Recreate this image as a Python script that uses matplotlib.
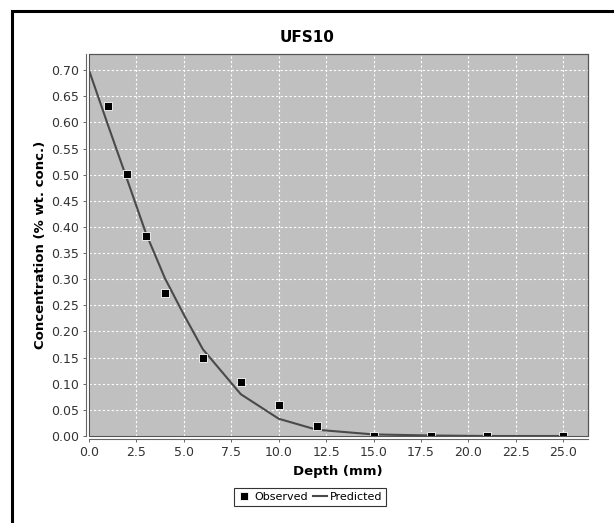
import matplotlib
matplotlib.use("Agg")
import matplotlib.pyplot as plt
from matplotlib.patches import Rectangle
import numpy as np

title = "UFS10"
obs_depth = [1, 2, 3, 4, 6, 8, 10, 12, 15, 18, 21, 25]
obs_conc = [0.632, 0.502, 0.383, 0.273, 0.150, 0.104, 0.060, 0.020, 0.0, 0.0, 0.0, 0.0]
pred_depth = [0, 1, 2, 3, 4, 5, 6, 8, 10, 12, 15, 18, 21, 25]
pred_conc = [0.700, 0.595, 0.492, 0.388, 0.302, 0.232, 0.166, 0.080, 0.033, 0.012, 0.003, 0.001, 0.0, 0.0]
xticks = [0.0, 2.5, 5.0, 7.5, 10.0, 12.5, 15.0, 17.5, 20.0, 22.5, 25.0]
yticks = [0.00, 0.05, 0.10, 0.15, 0.20, 0.25, 0.30, 0.35, 0.40, 0.45, 0.50, 0.55, 0.60, 0.65, 0.70]

plt.rcParams['font.family'] = ['DejaVu Sans']
W, H = 614, 523
fig = plt.figure(figsize=(W / 100, H / 100), dpi=100)
fig.patch.set_facecolor('white')

# outer frame
fig.patches.append(Rectangle((12 / W, -0.05), 1.2, 1 - 11 / H + 0.05, transform=fig.transFigure,
                             fill=False, edgecolor='black', linewidth=2.2, zorder=0))

ax = fig.add_axes([89 / W, 1 - 436 / H, (588 - 89) / W, (436 - 54) / H])
ax.set_facecolor('#c0c0c0')
ax.set_xlim(0, 26.3)
ax.set_ylim(0, 0.731)
ax.set_xticks(xticks)
ax.set_yticks(yticks)
ax.set_xticklabels([f"{v:.1f}" for v in xticks])
ax.set_yticklabels([f"{v:.2f}" for v in yticks])
ax.grid(True, color='white', linestyle=(0, (2, 2)), linewidth=0.8)
ax.set_axisbelow(True)

for s in ['top', 'right']:
    ax.spines[s].set_color('#555555')
    ax.spines[s].set_linewidth(0.8)
for s in ['left', 'bottom']:
    ax.spines[s].set_position(('outward', 2.5))
    ax.spines[s].set_color('#666666')
    ax.spines[s].set_linewidth(0.8)
ax.add_patch(Rectangle((0, 0), 1, 1, transform=ax.transAxes, fill=False,
                       edgecolor='#555555', linewidth=0.8, zorder=5, clip_on=False))
ax.tick_params(axis='both', direction='out', length=2.5, width=0.7, color='#666666',
               labelsize=9, labelcolor='#333333', pad=2)

ax.plot(pred_depth, pred_conc, color='#4a4a4a', linewidth=1.5, label='Predicted', zorder=3)
ax.plot(obs_depth, obs_conc, linestyle='none', marker='s', markersize=5.8, color='black',
        markeredgecolor='white', markeredgewidth=0.6, label='Observed', zorder=4, clip_on=True)

fig.text(307 / W, 1 - 37 / H, title, ha='center', va='center', fontsize=11, fontweight='bold')
fig.text(338 / W, 1 - 471 / H, 'Depth (mm)', ha='center', va='center', fontsize=9.5, fontweight='bold')
fig.text(41 / W, 1 - 245 / H, 'Concentration (% wt. conc.)', ha='center', va='center',
         fontsize=9.5, fontweight='bold', rotation=90)

h, l = ax.get_legend_handles_labels()
leg = fig.legend(h[::-1], l[::-1], loc='center', bbox_to_anchor=(310 / W, 1 - 497 / H), ncol=2,
                 fontsize=8, frameon=True, fancybox=False, edgecolor='black', borderpad=0.35,
                 handlelength=1.2, handletextpad=0.3, columnspacing=0.5, borderaxespad=0)
leg.get_frame().set_linewidth(0.8)

fig.savefig('out.png', dpi=100)
